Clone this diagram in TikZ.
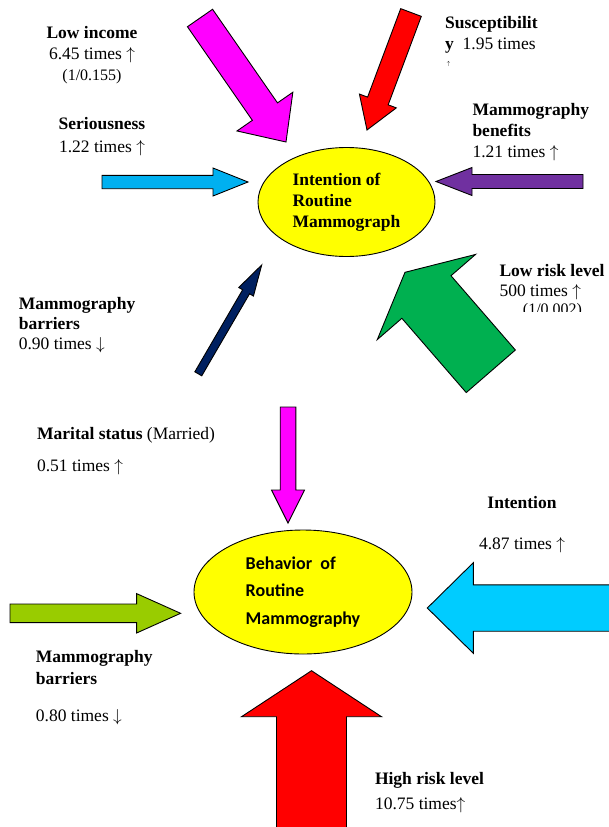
\documentclass[tikz,border=0pt]{standalone}
\usepackage{fontspec}
\setmainfont{Liberation Serif}
\newfontfamily\calibri{Carlito}
\usetikzlibrary{calc}
\usetikzlibrary{shapes.geometric}

\definecolor{incomemag}{HTML}{FF00FF}
\definecolor{susred}{HTML}{FF0000}
\definecolor{serblue}{HTML}{00B0F0}
\definecolor{benpurple}{HTML}{7030A0}
\definecolor{barnavy}{HTML}{002060}
\definecolor{riskgreen}{HTML}{00B050}
\definecolor{intblue}{HTML}{00CCFF}
\definecolor{barlime}{HTML}{99CC00}
\definecolor{ovalyellow}{HTML}{FFFF00}

\tikzset{
  barrow/.style={draw=black, line width=0.9pt, line join=miter},
  oval/.style={ellipse, draw=black, line width=0.9pt, fill=ovalyellow, inner sep=0pt, align=left},
  lbl/.style={inner sep=0pt, font=\fontsize{17.5}{21}\selectfont},
}
\newcommand\uparr{$\uparrow$}
\newcommand\downarr{$\downarrow$}

% block arrow: fill, tail, tip, shaft half width, head half width, head length
\newcommand\blockarrow[6]{%
  \coordinate (#2-neck) at ($(#3)!#6pt!(#2)$);
  \draw[barrow, fill=#1]
    ($(#2)!#4pt!90:(#3)$) -- ($(#2-neck)!#4pt!-90:(#2)$) --
    ($(#2-neck)!#5pt!-90:(#2)$) -- (#3) --
    ($(#2-neck)!#5pt!90:(#2)$) -- ($(#2-neck)!#4pt!90:(#2)$) --
    ($(#2)!#4pt!-90:(#3)$) -- cycle;}

\begin{document}
\begin{tikzpicture}[x=1pt,y=-1pt]
        \useasboundingbox (0,0) rectangle (609,827);
        \clip (0,0) rectangle (609,827);
        % Nodes
        \node[oval, minimum width=177pt, minimum height=109pt,
              font=\bfseries\fontsize{17.5}{21}\selectfont] (intent) at (346.5,202)
              {Intention of\\Routine\\Mammograph};
        \node[oval, minimum width=218pt, minimum height=124pt,
              font=\calibri\bfseries\fontsize{18}{27.5}\selectfont] (behav) at (303,592)
              {Behavior\ \ of\\Routine\\Mammography};
        % Labels
        \node[lbl, anchor=north, align=center] (income) at (92,25.7)
              {\textbf{Low income}\\6.45 times \uparr\\{\fontsize{16}{21}\selectfont (1/0.155)}};
        \node[lbl, anchor=north, align=center, font=\fontsize{17.5}{22.4}\selectfont] (serious) at (102,117.3)
              {\textbf{Seriousness}\\1.22 times \uparr};
        \node[lbl, anchor=north west, align=left] (suscept) at (445,16.3)
              {\textbf{Susceptibilit}\\\textbf{y}\ \ 1.95 times\\[-5pt]{\fontsize{9}{10}\selectfont\,$\scriptstyle\uparrow$}};
        \node[lbl, anchor=north west, align=left] (benefit) at (472.3,103.3)
              {\textbf{Mammography}\\\textbf{benefits}\\1.21 times \uparr};
        \node[lbl, anchor=north west, align=left, font=\fontsize{17.5}{20.3}\selectfont] (barrier) at (18.6,296.7)
              {\textbf{Mammography}\\\textbf{barriers}\\0.90 times \downarr};
        \node[lbl, anchor=north west, align=left, font=\fontsize{17.5}{20}\selectfont] (lowrisk) at (499.3,264)
              {\textbf{Low risk level}\\500 times \uparr};
        \begin{scope}
          \clip (480,296) rectangle (609,311);
          \node[lbl, anchor=north, font=\fontsize{16}{20}\selectfont] (lowratio) at (552.5,303.5) {(1/0.002)};
        \end{scope}
        \node[lbl, anchor=north west, align=left, font=\fontsize{17.5}{31.7}\selectfont] (marital) at (36.9,427.3)
              {\textbf{Marital status} (Married)\\0.51 times \uparr};
        \node[lbl, anchor=north, align=center, font=\fontsize{17.5}{41.6}\selectfont] (intlbl) at (522,495.7)
              {\textbf{Intention}\\4.87 times \uparr};
        \node[lbl, anchor=north west, align=left, font=\fontsize{17.5}{22.3}\selectfont] (barrier2) at (35.7,650)
              {\textbf{Mammography}\\\textbf{barriers}\\[14.4pt]0.80 times \downarr};
        \node[lbl, anchor=north west, align=left, font=\fontsize{17.5}{25}\selectfont] (highrisk) at (374.8,772.3)
              {\textbf{High risk level}\\10.75 times\uparr};
        % Arrows
        \coordinate (inc) at (200,18);       \coordinate (inc-tip) at (286,142);
        \coordinate (sus) at (411,12.5);     \coordinate (sus-tip) at (367,130);
        \coordinate (ser) at (102,182);      \coordinate (ser-tip) at (248,182);
        \coordinate (ben) at (583,181.5);    \coordinate (ben-tip) at (436,181.5);
        \coordinate (bar) at (198.3,373.8);  \coordinate (bar-tip) at (261.7,265);
        \coordinate (low) at (490.8,371.3);  \coordinate (low-tip) at (405,272.3);
        \coordinate (mar) at (288,407);      \coordinate (mar-tip) at (288,523);
        \coordinate (int) at (640,608);      \coordinate (int-tip) at (427.3,608);
        \coordinate (lim) at (10,613.3);     \coordinate (lim-tip) at (180.6,613.3);
        \coordinate (hig) at (311.5,850);    \coordinate (hig-tip) at (311.5,670.7);
        \blockarrow{incomemag}{inc}{inc-tip}{15.3}{34}{37}
        \blockarrow{susred}{sus}{sus-tip}{11}{19.7}{31}
        \blockarrow{serblue}{ser}{ser-tip}{6.7}{14}{35}
        \blockarrow{benpurple}{ben}{ben-tip}{7}{14}{36}
        \blockarrow{barnavy}{bar}{bar-tip}{4}{8.5}{31}
        \blockarrow{riskgreen}{low}{low-tip}{32.5}{65}{32.7}
        \blockarrow{incomemag}{mar}{mar-tip}{7.8}{16.5}{33}
        \blockarrow{intblue}{int}{int-tip}{23.2}{45.3}{46}
        \blockarrow{barlime}{lim}{lim-tip}{9.3}{19.7}{44}
        \blockarrow{susred}{hig}{hig-tip}{35}{70}{46}
    \end{tikzpicture}
\end{document}
